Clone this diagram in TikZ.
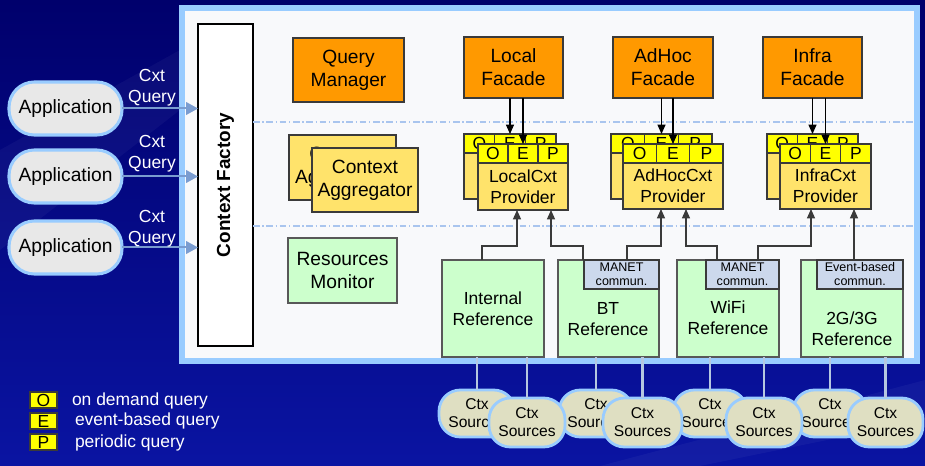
\documentclass[tikz,border=0pt]{standalone}
\usepackage{fontspec}
\setmainfont{Liberation Sans}
\usetikzlibrary{arrows.meta}
\definecolor{navyA}{HTML}{00006C}
\definecolor{navyB}{HTML}{0A14A2}
\definecolor{panelB}{HTML}{99CCFF}
\definecolor{panelF}{HTML}{F8F9FB}
\definecolor{orangeF}{HTML}{FF9900}
\definecolor{yelF}{HTML}{FFE36B}
\definecolor{hdrF}{HTML}{FFFF00}
\definecolor{grnF}{HTML}{CCFFCC}
\definecolor{subF}{HTML}{CCD8EC}
\definecolor{appF}{HTML}{E8E8E8}
\definecolor{srcF}{HTML}{DFDFC2}
\definecolor{arrB}{HTML}{7A9CD0}
\definecolor{sepC}{HTML}{A9C5EE}
\definecolor{srcL}{HTML}{B5C7E0}
\definecolor{edgeC}{HTML}{3A3A3A}
\newcommand\fBig{\fontsize{14.4pt}{17.2pt}\selectfont}
\newcommand\fMid{\fontsize{13.1pt}{15.8pt}\selectfont}
\newcommand\fSmall{\fontsize{9.4pt}{10.5pt}\selectfont}
\newcommand\fSrc{\fontsize{11.7pt}{13.5pt}\selectfont}
\newcommand\fCF{\fontsize{14.2pt}{16pt}\selectfont\bfseries}
% box by corners (pixel units): [style]{name}{x1}{y1}{x2}{y2}{text}
\newcommand\bx[7][]{%
  \pgfmathsetmacro\bcx{(#3+#5)/2}%
  \pgfmathsetmacro\bcy{(#4+#6)/2}%
  \pgfmathsetmacro\bw{abs(#5-#3)*0.75}%
  \pgfmathsetmacro\bh{abs(#6-#4)*0.75}%
  \node[#1, minimum width=\bw pt, minimum height=\bh pt] (#2) at (\bcx,\bcy) {#7};}
% provider stack: name, x1, x2, header top, bottom, text
\newcommand\provider[6]{%
  \pgfmathsetmacro\pxa{#2+(#3-#2)/3}%
  \pgfmathsetmacro\pxb{#2+2*(#3-#2)/3}%
  \pgfmathsetmacro\pyh{#4+19}%
  \bx[hcell]{#1o}{#2}{#4}{\pxa}{\pyh}{O}%
  \bx[hcell]{#1e}{\pxa}{#4}{\pxb}{\pyh}{E}%
  \bx[hcell]{#1p}{\pxb}{#4}{#3}{\pyh}{P}%
  \bx[ybox, font=\fMid]{#1}{#2}{\pyh}{#3}{#5}{#6}%
}
\begin{document}
\begin{tikzpicture}[x=0.75pt,y=-0.75pt,
  base/.style={inner sep=0pt, outer sep=0pt, align=center},
  obox/.style={base, draw=edgeC, line width=0.8pt, fill=orangeF, font=\fBig},
  ybox/.style={base, draw=edgeC, line width=0.8pt, fill=yelF},
  hcell/.style={base, draw=edgeC, line width=0.8pt, fill=hdrF, font=\fMid},
  gbox/.style={base, draw=edgeC!85, line width=0.8pt, fill=grnF, font=\fMid},
  sbox/.style={base, draw=edgeC, line width=0.8pt, fill=subF, font=\fSmall},
  appbox/.style={base, draw=panelB, line width=2.3pt, fill=appF, rounded corners=19pt, font=\fBig},
  srcbox/.style={base, draw=panelB, line width=2.1pt, fill=srcF, rounded corners=16pt, font=\fSrc},
  apparr/.style={draw=arrB, line width=1.5pt, -{Triangle[length=9pt,width=9.5pt]}},
  dnar/.style={draw=black, line width=0.8pt, -{Triangle[length=7pt,width=6pt]}},
  upar/.style={draw=edgeC, line width=0.9pt, -{Triangle[length=7pt,width=6pt]}},
  sepline/.style={draw=sepC, line width=0.8pt, dash pattern=on 5pt off 2pt on 1pt off 2pt},
  srcline/.style={draw=srcL, line width=1.8pt},
  wtxt/.style={base, text=white, font=\fMid},
  txt/.style={base, font=\fMid},
]
% background
\path[use as bounding box, top color=navyA, bottom color=navyB] (0,0) rectangle (925,466);
\fill[white, opacity=0.04] (0,150) -- (180,50) -- (180,110) -- (0,250) -- cycle;
\fill[white, opacity=0.04] (600,466) -- (925,380) -- (925,420) -- (700,466) -- cycle;

% main panel
\bx[base, draw=panelB, line width=4.5pt, fill=panelF]{panel}{181.5}{8.5}{917}{361.5}{}

% context factory
\bx[base, draw=black, line width=0.8pt, fill=white]{cf}{198}{24}{253}{346}{}
\node[base, rotate=90, font=\fCF] (cft) at (cf.center) {Context Factory};

% separators
\coordinate (s1) at (913,122);
\coordinate (s2) at (913,226);
\draw[sepline] (s1 -| cf.east) -- (s1);
\draw[sepline] (s2 -| cf.east) -- (s2);

% top row
\bx[obox]{qm}{293}{38}{404}{102}{Query\\Manager}
\bx[obox]{lf}{464}{37}{563}{98}{Local\\Facade}
\bx[obox]{af}{613}{37}{713}{98}{AdHoc\\Facade}
\bx[obox]{inf}{763}{37}{862}{98}{Infra\\Facade}

% aggregators
\bx[ybox, font=\fBig]{agb}{289}{135}{396}{200}{Context\\Aggregator}
\bx[ybox, font=\fBig]{agf}{312}{148}{418}{212}{Context\\Aggregator}

% resources monitor
\bx[gbox, font=\fBig]{rm}{288}{238}{397}{303}{Resources\\Monitor}

% providers
\provider{lpb}{464}{556}{134}{199}{}
\provider{lp}{478}{568}{144}{210}{LocalCxt\\Provider}
\provider{apb}{611}{712}{134}{199}{}
\provider{ap}{623}{723}{144}{209}{AdHocCxt\\Provider}
\provider{ipb}{767}{858}{134}{199}{}
\provider{ip}{780}{871}{144}{209}{InfraCxt\\Provider}

% facade arrows
\draw[dnar] (lf.south -| lpbe.north) -- (lpbe.north);
\draw[dnar] (lf.south -| lpe.north) -- (lpe.north);
\draw[dnar] (af.south -| apbe.north) -- (apbe.north);
\draw[dnar] (af.south -| ape.north) -- (ape.north);
\draw[dnar] (inf.south -| ipbe.north) -- (ipbe.north);
\draw[dnar] (inf.south -| ipe.north) -- (ipe.north);

% references
\bx[gbox]{iref}{442}{260}{544}{357}{Internal\\Reference}
\bx[gbox]{bt}{558}{260}{659}{357}{}
\node[txt] (btt) at (608,319) {BT\\Reference};
\bx[gbox]{wifi}{677}{260}{779}{357}{}
\node[txt] (wifit) at (728,318) {WiFi\\Reference};
\bx[gbox]{gg}{801}{260}{903}{357}{}
\node[txt] (ggt) at (852,329) {2G/3G\\Reference};
\bx[sbox]{btm}{584}{260}{659}{289}{MANET\\commun.}
\bx[sbox]{wm}{706}{260}{779}{289}{MANET\\commun.}
\bx[sbox]{gm}{817}{260}{903}{289}{Event-based\\commun.}

% reference -> provider arrows
\coordinate (r1a) at (482,246); \coordinate (r1b) at (517,246);
\coordinate (r2a) at (583,246); \coordinate (r2b) at (551,246);
\coordinate (r3a) at (627,246); \coordinate (r3b) at (661,246);
\coordinate (r4a) at (717,246); \coordinate (r4b) at (686,246);
\coordinate (r5a) at (758,246); \coordinate (r5b) at (811,246);
\coordinate (r6) at (854,246);
\draw[upar] (iref.north -| r1a) -- (r1a) -- (r1b) -- (lp.south -| r1b);
\draw[upar] (bt.north -| r2a) -- (r2a) -- (r2b) -- (lp.south -| r2b);
\draw[upar] (btm.north -| r3a) -- (r3a) -- (r3b) -- (ap.south -| r3b);
\draw[upar] (wm.north -| r4a) -- (r4a) -- (r4b) -- (ap.south -| r4b);
\draw[upar] (wm.north -| r5a) -- (r5a) -- (r5b) -- (ip.south -| r5b);
\draw[upar] (gm.north -| r6) -- (ip.south -| r6);

% context sources
\bx[srcbox]{cs1b}{439}{390}{515}{437}{Ctx\\Sources}
\bx[srcbox]{cs2b}{559}{390}{633}{437}{Ctx\\Sources}
\bx[srcbox]{cs3b}{673}{390}{747}{437}{Ctx\\Sources}
\bx[srcbox]{cs4b}{793}{390}{867}{437}{Ctx\\Sources}
\draw[srcline] (iref.south -| cs1b.north) -- (cs1b.north);
\draw[srcline] (bt.south -| cs2b.north) -- (cs2b.north);
\draw[srcline] (wifi.south -| cs3b.north) -- (cs3b.north);
\draw[srcline] (gg.south -| cs4b.north) -- (cs4b.north);
\bx[srcbox]{cs1f}{489}{398}{565}{447}{Ctx\\Sources}
\bx[srcbox]{cs2f}{603}{398}{682}{447}{Ctx\\Sources}
\bx[srcbox]{cs3f}{726}{398}{802}{447}{Ctx\\Sources}
\bx[srcbox]{cs4f}{848}{398}{923}{447}{Ctx\\Sources}
\draw[srcline] (iref.south -| cs1f.north) -- (cs1f.north);
\draw[srcline] (bt.south -| cs2f.north) -- (cs2f.north);
\draw[srcline] (wifi.south -| cs3f.north) -- (cs3f.north);
\draw[srcline] (gg.south -| cs4f.north) -- (cs4f.north);

% applications
\bx[appbox]{app1}{9}{82}{122}{135}{Application}
\bx[appbox]{app2}{9}{150}{122}{203}{Application}
\bx[appbox]{app3}{9}{221}{122}{274}{Application}
\draw[apparr] (app1.east) -- (app1.east -| cf.west);
\draw[apparr] (app2.east) -- (app2.east -| cf.west);
\draw[apparr] (app3.east) -- (app3.east -| cf.west);
\node[wtxt] (q1) at (152,88) {Cxt\\Query};
\node[wtxt] (q2) at (152,153.5) {Cxt\\Query};
\node[wtxt] (q3) at (152,228.5) {Cxt\\Query};

% legend
\bx[hcell, line width=1pt]{lgo}{30}{392}{57}{408}{O}
\bx[hcell, line width=1pt]{lge}{30}{413}{57}{429}{E}
\bx[hcell, line width=1pt]{lgp}{30}{434}{57}{450}{P}
\node[wtxt, anchor=west] (lgot) at (72,401) {on demand query};
\node[wtxt, anchor=west] (lget) at (75,421) {event-based query};
\node[wtxt, anchor=west] (lgpt) at (75,443) {periodic query};
\end{tikzpicture}
\end{document}
